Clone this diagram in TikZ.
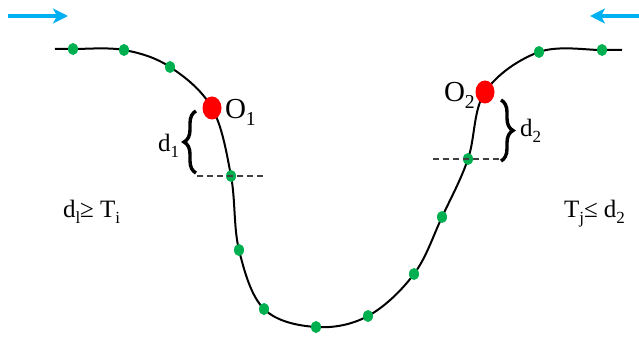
\documentclass[tikz,border=0pt]{standalone}
\usepackage{fontspec}
\setmainfont{Liberation Serif}
\usetikzlibrary{arrows.meta,shapes.geometric,decorations.pathreplacing}
\definecolor{flowblue}{RGB}{0,176,240}
\definecolor{ptgreen}{RGB}{0,176,80}
\newcommand\lowidx[1]{\raisebox{-0.24em}{\scalebox{0.68}{#1}}}

\begin{document}
\begin{tikzpicture}[x=1pt,y=-1pt,line width=2pt,
  gdot/.style={ellipse,fill=ptgreen,minimum width=10pt,minimum height=12pt,inner sep=0pt},
  rdot/.style={ellipse,fill=red,minimum width=19pt,minimum height=23pt,inner sep=0pt},
  flow/.style={flowblue,line width=3.5pt,-{Stealth[length=15pt,width=15pt,inset=4pt]}},
  cut/.style={black!75,line width=1.2pt,dash pattern=on 6pt off 4pt},
  bracebar/.style={decorate,decoration={brace,amplitude=12pt},line width=3.4pt},
  lbl/.style={font=\fontsize{25}{28}\selectfont,inner sep=0pt,anchor=base west},
  big/.style={lbl,font=\fontsize{29}{31}\selectfont}]
  \useasboundingbox (0,0) rectangle (639,339);

  \foreach \nm/\xx/\yy in {c0/55/49,g1/73/49,g2/124/50,g3/170/67,o1/212/108,
      g4/231/176,g5/239/250,g6/264/309,g7/316/327,g8/368/316,g9/414/274,
      g10/442/217,g11/468/159,o2/485/92,g12/539/52,g13/602/50,c1/622/50}
    \coordinate (\nm) at (\xx,\yy);
  \draw plot[smooth,tension=0.6] coordinates {(c0) (g1) (g2) (g3) (o1) (g4) (g5)
      (g6) (g7) (g8) (g9) (g10) (g11) (o2) (g12) (g13) (c1)};

  \foreach \i in {1,...,13}
    \node[gdot] (dot\i) at (g\i) {};
  \node[rdot] (red1) at (o1) {};
  \node[rdot] (red2) at (o2) {};

  % inflow arrows
  \coordinate (a1) at (8,16);  \coordinate (a2) at (68,16);
  \coordinate (b1) at (639,16); \coordinate (b2) at (590,16);
  \draw[flow] (a1) -- (a2);
  \draw[flow] (b1) -- (b2);

  % cut levels and braces
  \coordinate (k1) at (197,176); \coordinate (k2) at (265,176);
  \coordinate (k3) at (433,159); \coordinate (k4) at (501,159);
  \draw[cut] (k1) -- (k2);
  \draw[cut] (k3) -- (k4);
  \coordinate (s1) at (196,173); \coordinate (s2) at (196,111);
  \coordinate (s3) at (501,100); \coordinate (s4) at (501,161);
  \draw[bracebar] (s1) -- (s2);
  \draw[bracebar] (s3) -- (s4);

  \node[big] (lo1) at (224,119) {O\lowidx{1}};
  \node[big] (lo2) at (443,102) {O\lowidx{2}};
  \node[lbl] (ld1) at (157,152) {d\lowidx{1}};
  \node[lbl] (ld2) at (519,137) {d\lowidx{2}};
  \node[lbl] (cond1) at (62,217) {d\lowidx{l}≥ T\lowidx{i}};
  \node[lbl] (cond2) at (563,217) {T\lowidx{j}≤ d\lowidx{2}};
\end{tikzpicture}
\end{document}
